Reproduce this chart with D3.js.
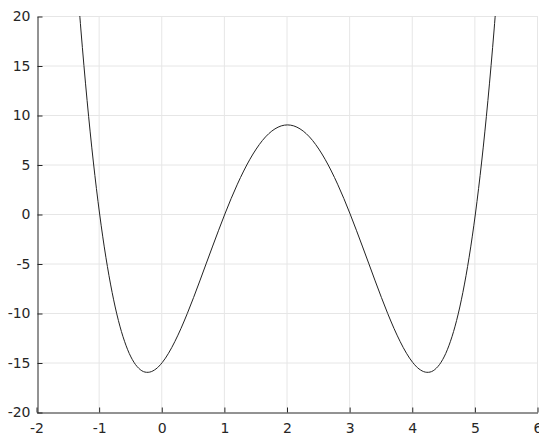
<!DOCTYPE html>
<html>
<head>
<meta charset="utf-8">
<script src="https://cdn.jsdelivr.net/npm/d3@7"></script>
<style>
  body { margin: 0; background: #fff; }
  svg { display: block; }
</style>
</head>
<body>
<script>
// curve samples, x from -1.4 to 5.4 step 0.1
const xs = d3.range(69).map(i => +(-1.4 + i * 0.1).toFixed(1))
const ys = [
  27.03, 18.69, 11.46, 5.25, 0, -4.37, -7.93, -10.76, -12.90, -14.44,
  -15.42, -15.92, -15.97, -15.65, -15.00, -14.07, -12.90, -11.55, -10.05, -8.44,
  -6.76, -5.04, -3.33, -1.64, 0, 1.56, 3.01, 4.34, 5.53, 6.56,
  7.43, 8.11, 8.60, 8.90, 9.00, 8.90, 8.60, 8.11, 7.43, 6.56,
  5.53, 4.34, 3.01, 1.56, 0, -1.64, -3.33, -5.04, -6.76, -8.44,
  -10.05, -11.55, -12.90, -14.07, -15.00, -15.65, -15.97, -15.92, -15.42, -14.44,
  -12.90, -10.76, -7.93, -4.37, 0, 5.25, 11.46, 18.69, 27.03
]
const xTicks = [-2, -1, 0, 1, 2, 3, 4, 5, 6]
const yTicks = [-20, -15, -10, -5, 0, 5, 10, 15, 20]

const w = 539
const h = 436
const m = {left: 37, right: 1, top: 16, bottom: 24}

const x = d3.scaleLinear().domain([-2, 6]).range([m.left, w - m.right])
const y = d3.scaleLinear().domain([-20, 20]).range([h - m.bottom, m.top])

const svg = d3.select('body')
  .append('svg')
  .attr('width', w)
  .attr('height', h)

svg.append('defs').append('clipPath').attr('id', 'clip')
  .append('rect')
  .attr('x', m.left).attr('y', m.top)
  .attr('width', w - m.left - m.right).attr('height', h - m.top - m.bottom)

// grid
svg.append('g').selectAll('line')
  .data(xTicks.slice(1))
  .enter().append('line')
  .attr('x1', d => x(d) - 0.5).attr('x2', d => x(d) - 0.5)
  .attr('y1', y(-20)).attr('y2', y(20))
  .attr('stroke', '#e6e6e6')
svg.append('g').selectAll('line')
  .data(yTicks.slice(1))
  .enter().append('line')
  .attr('y1', d => y(d) + 0.5).attr('y2', d => y(d) + 0.5)
  .attr('x1', x(-2)).attr('x2', x(6))
  .attr('stroke', '#e6e6e6')

// curve
const line = d3.line()
  .x((d, i) => x(xs[i]))
  .y(d => y(d))
  .curve(d3.curveCatmullRom)

svg.append('path')
  .datum(ys)
  .attr('clip-path', 'url(#clip)')
  .attr('d', line)
  .attr('fill', 'none')
  .attr('stroke', '#222')
  .attr('stroke-width', 1)

// axes, plain hyphen for negatives like the original
const fmt = d => String(d)
const xAxis = d3.axisBottom(x).tickValues(xTicks).tickFormat(fmt).tickSizeInner(-5).tickSizeOuter(0).tickPadding(11)
const yAxis = d3.axisLeft(y).tickValues(yTicks).tickFormat(fmt).tickSizeInner(-5).tickSizeOuter(0).tickPadding(7)

const gx = svg.append('g')
  .attr('transform', `translate(-0.5,${y(-20) + 0.5})`)
  .call(xAxis)
const gy = svg.append('g')
  .attr('transform', `translate(${x(-2) + 0.5},0.5)`)
  .call(yAxis)

for (const g of [gx, gy]) {
  g.select('.domain').attr('stroke', '#262626')
  g.selectAll('.tick line').attr('stroke', '#262626')
  g.selectAll('text')
    .attr('fill', '#262626')
    .attr('font-family', 'DejaVu Sans')
    .attr('font-size', 14)
}
</script>
</body>
</html>
